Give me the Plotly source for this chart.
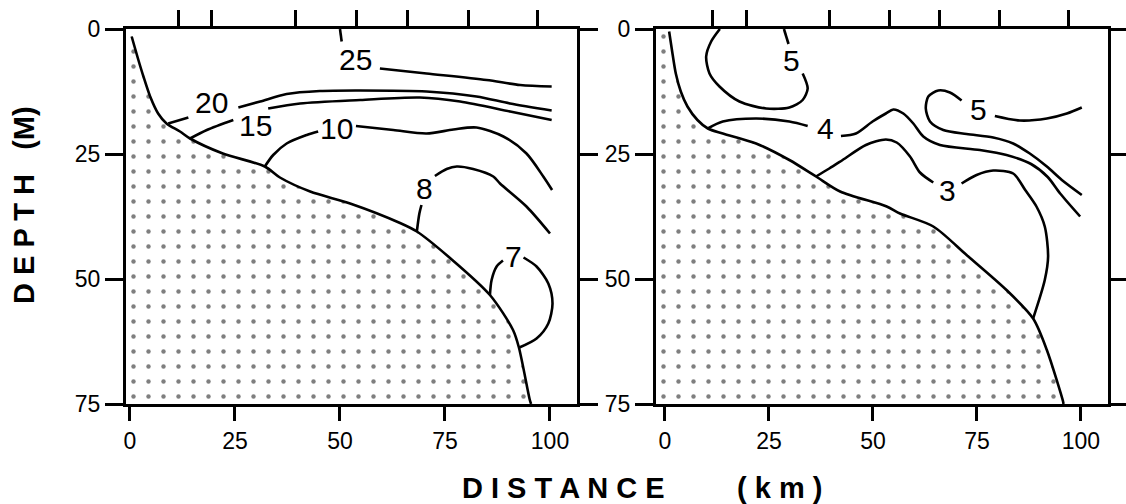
import plotly.graph_objects as go

# ---------------- data (distance km, depth m) ----------------
x_ticks = [0, 25, 50, 75, 100]
y_ticks = [0, 25, 50, 75]
stations_km = [11.5, 19.5, 39.5, 54.0, 66.0, 80.5, 97.0]

# bottom profile, left section
bottom_left_km = [0.4, 2.0, 3.2, 4.8, 6.7, 8.7, 11.9, 14.3, 22.1, 32.1, 35.7, 42.9, 52.4,
                  64.3, 68.3, 76.2, 85.7, 91.2, 92.6, 95.2, 95.5]
bottom_left_d = [1.5, 6.2, 9.5, 13.5, 16.9, 18.9, 20.5, 21.9, 24.9, 27.5, 29.7, 32.5, 34.9,
                 38.8, 40.5, 45.8, 53.2, 60.2, 63.7, 74.2, 75.0]

# bottom profile, right section
bottom_right_km = [1.0, 1.8, 2.6, 3.8, 5.4, 7.8, 10.3, 13.9, 21.9, 29.9, 36.3, 42.1, 53.3,
                   56.5, 64.5, 72.5, 82.1, 88.5, 91.8, 95.7, 95.8]
bottom_right_d = [0.5, 4.9, 8.9, 12.5, 15.5, 18.2, 19.9, 20.9, 22.9, 26.2, 29.5, 32.5, 35.5,
                  36.9, 39.5, 45.2, 52.2, 57.9, 64.2, 74.5, 75.0]

# ---- left section isolines (segments split around their labels) ----
left_lines = {
    "25_leader": ([50.0, 50.4], [0.0, 2.5]),
    "25": ([59.5, 70.6, 84.9, 92.9, 100.4], [7.9, 8.9, 10.2, 11.2, 11.5]),
    "20_a": ([9.1, 13.9], [18.9, 17.7]),
    "20_b": ([25.8, 31.0, 37.3, 45.2, 54.8, 70.6, 82.5, 90.5, 100.4],
             [15.7, 14.5, 13.0, 12.4, 12.3, 12.5, 13.5, 14.9, 16.3]),
    "15_a": ([14.3, 18.3, 24.6], [21.9, 20.2, 18.2]),
    "15_b": ([32.9, 40.5, 54.8, 69.0, 78.6, 90.5, 100.4],
             [15.9, 14.9, 14.2, 13.7, 14.5, 16.5, 18.2]),
    "10_a": ([32.1, 34.1, 37.3, 42.1, 44.8], [27.5, 25.2, 22.9, 21.2, 20.5]),
    "10_b": ([53.8, 62.7, 70.6, 77.0, 82.5, 88.9, 94.4, 98.4, 100.5],
             [19.4, 20.2, 20.9, 20.1, 19.7, 21.5, 24.9, 29.5, 32.2]),
    "8_a": ([68.3, 68.9, 69.4], [40.5, 36.9, 35.2]),
    "8_b": ([72.6, 75.4, 77.8, 81.7, 86.5, 88.1, 94.4, 100.0],
            [29.4, 28.0, 27.5, 28.0, 29.5, 30.9, 35.5, 40.9]),
    "7_a": ([85.7, 86.1, 87.3, 88.8], [53.2, 50.2, 47.5, 46.3]),
    "7_b": ([93.7, 96.8, 99.6, 100.6, 99.6, 96.8, 92.7],
            [45.7, 47.5, 50.9, 54.9, 58.9, 61.9, 63.7]),
}
left_labels = ["25", "20", "15", "10", "8", "7"]
left_label_km = [53.8, 19.4, 30.0, 49.2, 70.2, 91.3]
left_label_d = [6.0, 14.7, 19.3, 19.9, 31.9, 45.4]

# ---- right section isolines ----
right_lines = {
    "5a_leader": ([28.6, 29.7], [0.0, 3.0]),
    "5a": ([13.2, 11.1, 9.9, 10.7, 13.1, 17.9, 24.3, 29.9, 33.1, 34.3, 33.1],
           [0.0, 2.5, 5.5, 8.9, 11.5, 14.5, 15.9, 15.7, 14.2, 11.9, 8.9]),
    "4_a": ([10.3, 13.9, 21.9, 29.9, 34.3], [19.9, 18.5, 17.9, 18.5, 19.4]),
    "4_b": ([42.3, 45.9, 49.9, 53.1, 54.9, 57.3, 59.7, 62.1, 66.1, 75.7, 82.1, 88.0, 92.0, 95.0, 99.8],
            [21.4, 20.9, 18.5, 16.9, 16.1, 16.9, 18.9, 21.5, 23.2, 24.2, 25.2, 27.0, 29.6, 32.9, 37.5]),
    "5b_a": ([100.2, 96.6, 91.8, 85.3, 79.3], [15.7, 16.9, 17.9, 18.3, 17.4]),
    "5b_b": ([71.3, 68.5, 65.7, 63.3, 62.7, 63.7, 66.9, 72.5, 78.9, 83.7, 87.7, 91.8, 95.4, 100.2],
             [14.3, 12.7, 12.3, 13.5, 15.9, 18.5, 20.2, 21.0, 21.7, 22.9, 24.9, 27.5, 30.2, 33.2]),
    "3_a": ([36.3, 39.5, 42.7, 48.3, 53.1, 55.7, 58.9, 61.3, 64.5],
            [29.5, 27.9, 26.2, 23.2, 22.1, 22.7, 25.5, 28.7, 30.7]),
    "3_b": ([71.3, 74.9, 78.9, 83.7, 86.6, 89.3, 91.3, 92.1, 91.3, 88.5],
            [30.9, 29.2, 28.3, 28.9, 32.2, 35.5, 39.5, 45.5, 50.2, 57.9]),
}
right_labels = ["5", "4", "5", "3"]
right_label_km = [30.3, 38.7, 75.3, 67.8]
right_label_d = [6.2, 19.9, 16.0, 32.2]

# ---------------- layout geometry ----------------
W, H = 1126, 504
left_xrange = [-0.95, 106.43]
right_xrange = [-2.16, 106.5]
depth_range = [75, 0]
left_dom = [126 / W, 577 / W]
right_dom = [656 / W, 1108 / W]
y_dom = [1 - 404 / H, 1 - 29 / H]

FONT = "Liberation Sans"
LW = 2.6

fig = go.Figure()


def add_fill(xs, ys, xmin, xa, ya):
    px = [xmin] + list(xs) + [xmin]
    py = [0] + list(ys) + [depth_range[0]]
    fig.add_trace(go.Scatter(
        x=px, y=py, mode="lines", fill="toself", line=dict(width=0, color="rgba(0,0,0,0)"),
        fillcolor="white",
        fillpattern=dict(shape=".", fgcolor="black", bgcolor="white", size=15, solidity=0.07),
        xaxis=xa, yaxis=ya, showlegend=False, hoverinfo="skip"))


def add_line(xs, ys, xa, ya, width=LW):
    fig.add_trace(go.Scatter(
        x=xs, y=ys, mode="lines",
        line=dict(color="black", width=width, shape="spline", smoothing=0.8),
        xaxis=xa, yaxis=ya, showlegend=False, hoverinfo="skip"))


add_fill(bottom_left_km, bottom_left_d, left_xrange[0], "x", "y")
add_fill(bottom_right_km, bottom_right_d, right_xrange[0], "x2", "y2")
add_line(bottom_left_km, bottom_left_d, "x", "y")
add_line(bottom_right_km, bottom_right_d, "x2", "y2")

for xs, ys in left_lines.values():
    add_line(xs, ys, "x", "y")
for xs, ys in right_lines.values():
    add_line(xs, ys, "x2", "y2")

# invisible traces so the station-tick axes are drawn
fig.add_trace(go.Scatter(x=stations_km, y=[0] * len(stations_km), mode="markers",
                         marker=dict(opacity=0), xaxis="x3", yaxis="y",
                         showlegend=False, hoverinfo="skip"))
fig.add_trace(go.Scatter(x=stations_km, y=[0] * len(stations_km), mode="markers",
                         marker=dict(opacity=0), xaxis="x4", yaxis="y2",
                         showlegend=False, hoverinfo="skip"))

annotations = []
for t, xk, yd in zip(left_labels, left_label_km, left_label_d):
    annotations.append(dict(x=xk, y=yd, xref="x", yref="y", text=t, showarrow=False,
                            xanchor="center", yanchor="middle",
                            font=dict(family=FONT, size=30, color="black")))
for t, xk, yd in zip(right_labels, right_label_km, right_label_d):
    annotations.append(dict(x=xk, y=yd, xref="x2", yref="y2", text=t, showarrow=False,
                            xanchor="center", yanchor="middle",
                            font=dict(family=FONT, size=30, color="black")))

title_font = dict(family=FONT, size=29, color="black", weight="bold")
annotations.append(dict(x=563 / W, y=1 - 488 / H, xref="paper", yref="paper",
                        text="D I S T A N C E", showarrow=False,
                        xanchor="center", yanchor="middle", font=title_font))
annotations.append(dict(x=779 / W, y=1 - 488 / H, xref="paper", yref="paper",
                        text="( k m )", showarrow=False,
                        xanchor="center", yanchor="middle", font=title_font))
annotations.append(dict(x=24 / W, y=1 - 205 / H, xref="paper", yref="paper",
                        text="D E P T H   (M)", showarrow=False, textangle=-90,
                        xanchor="center", yanchor="middle", font=title_font))

common_x = dict(showgrid=False, zeroline=False, showline=True, linewidth=3, linecolor="black",
                mirror=True, ticks="outside", ticklen=14, tickwidth=3, tickcolor="black",
                tickvals=x_ticks, automargin=False,
                tickfont=dict(family=FONT, size=23, color="black"))
common_y = dict(showgrid=False, zeroline=False, showline=True, linewidth=3, linecolor="black",
                mirror="ticks", ticks="outside", ticklen=18, tickwidth=3, tickcolor="black",
                tickvals=y_ticks, range=depth_range, automargin=False,
                tickfont=dict(family=FONT, size=23, color="black"))
top_x = dict(showgrid=False, zeroline=False, showline=False, ticks="outside", ticklen=18,
             tickwidth=2.5, tickcolor="black", tickvals=stations_km, showticklabels=False,
             side="top", automargin=False)

fig.update_layout(
    width=W, height=H, margin=dict(l=0, r=0, t=0, b=0, autoexpand=False),
    paper_bgcolor="white", plot_bgcolor="white", showlegend=False,
    xaxis=dict(domain=left_dom, range=left_xrange, anchor="y", **common_x),
    yaxis=dict(domain=y_dom, anchor="x", **common_y),
    xaxis2=dict(domain=right_dom, range=right_xrange, anchor="y2", **common_x),
    yaxis2=dict(domain=y_dom, anchor="x2", **common_y),
    xaxis3=dict(overlaying="x", range=left_xrange, anchor="y", **top_x),
    xaxis4=dict(overlaying="x2", range=right_xrange, anchor="y2", **top_x),
    annotations=annotations,
)

fig.write_html("out.html", config={"displayModeBar": False},
               post_script="document.body.style.margin='0';document.body.style.overflow='hidden';")
